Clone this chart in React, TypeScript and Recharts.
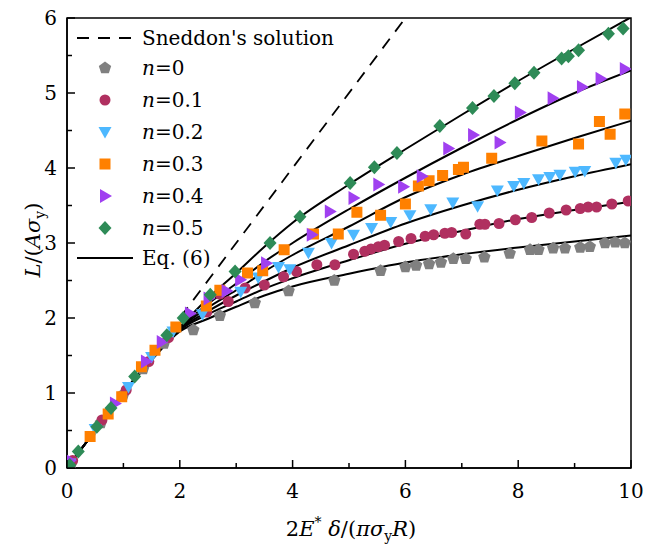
import React from "react";
import {
  ComposedChart,
  Line,
  Scatter,
  XAxis,
  YAxis,
  ReferenceArea,
  Legend,
} from "recharts";

// curve abscissae for Eq. (6)
const curveX = [0, 0.5, 1, 1.5, 2, 2.5, 3, 3.5, 4, 5, 6, 7, 8, 9, 10];
const eqN0 = [0, 0.5, 1.0, 1.44, 1.82, 1.99, 2.15, 2.3, 2.42, 2.59, 2.74, 2.85, 2.94, 3.02, 3.1];
const eqN01 = [0, 0.5, 1.0, 1.45, 1.84, 2.05, 2.22, 2.39, 2.53, 2.77, 2.99, 3.16, 3.32, 3.44, 3.55];
const eqN02 = [0, 0.5, 1.0, 1.45, 1.85, 2.09, 2.3, 2.49, 2.67, 2.97, 3.26, 3.5, 3.71, 3.89, 4.05];
const eqN03 = [0, 0.5, 1.0, 1.45, 1.86, 2.14, 2.37, 2.62, 2.84, 3.22, 3.61, 3.91, 4.16, 4.4, 4.63];
const eqN04 = [0, 0.5, 1.0, 1.45, 1.87, 2.19, 2.46, 2.75, 3.0, 3.45, 3.87, 4.27, 4.65, 5.0, 5.3];
const eqN05 = [0, 0.5, 1.0, 1.45, 1.88, 2.26, 2.6, 2.95, 3.27, 3.78, 4.25, 4.71, 5.16, 5.59, 6.01];

const sneddonX = [0, 6];
const sneddonY = [0, 6];

// FE points, [x, y]
const ptsN0 = [
  [0.08, 0.07], [0.6, 0.6], [1.0, 0.98], [1.35, 1.32], [1.72, 1.66],
  [2.24, 1.84], [2.71, 2.03], [3.33, 2.2], [3.93, 2.36], [4.74, 2.5],
  [5.56, 2.63], [6.0, 2.68], [6.19, 2.7], [6.42, 2.72], [6.63, 2.74],
  [6.85, 2.79], [7.07, 2.79], [7.4, 2.81], [7.85, 2.86], [8.21, 2.91],
  [8.36, 2.91], [8.62, 2.93], [8.83, 2.93], [9.1, 2.94], [9.27, 2.95],
  [9.54, 3.0], [9.72, 3.01], [9.89, 3.0],
];
const ptsN01 = [
  [0.1, 0.1], [0.62, 0.64], [1.05, 1.04], [1.45, 1.42], [1.8, 1.74],
  [2.48, 2.08], [2.71, 2.32], [2.86, 2.22], [3.16, 2.4], [3.5, 2.44],
  [3.84, 2.55], [4.07, 2.62], [4.43, 2.71], [4.75, 2.71], [5.08, 2.85],
  [5.28, 2.89], [5.39, 2.92], [5.52, 2.95], [5.63, 2.97], [5.88, 3.02],
  [6.1, 3.06], [6.35, 3.09], [6.5, 3.11], [6.7, 3.13], [6.82, 3.14],
  [7.07, 3.12], [7.32, 3.25], [7.41, 3.25], [7.66, 3.26], [7.95, 3.31],
  [8.24, 3.34], [8.55, 3.4], [8.85, 3.44], [9.1, 3.46], [9.24, 3.48],
  [9.39, 3.48], [9.66, 3.52], [9.95, 3.56],
];
const ptsN02 = [
  [0.05, 0.06], [0.5, 0.52], [1.09, 1.08], [1.5, 1.48], [1.88, 1.82],
  [2.4, 2.05], [3.08, 2.35], [3.39, 2.54], [3.75, 2.68], [3.95, 2.65],
  [4.28, 2.87], [4.69, 3.0], [5.08, 3.11], [5.4, 3.2], [5.74, 3.28],
  [6.08, 3.37], [6.45, 3.45], [6.84, 3.54], [7.28, 3.49], [7.63, 3.7],
  [7.92, 3.76], [8.1, 3.8], [8.36, 3.85], [8.56, 3.88], [8.74, 3.91],
  [9.01, 3.95], [9.18, 3.96], [9.73, 4.07], [9.91, 4.11],
];
const ptsN03 = [
  [0.41, 0.42], [0.73, 0.72], [0.97, 0.95], [1.32, 1.35], [1.56, 1.57],
  [1.93, 1.88], [2.47, 2.16], [2.71, 2.37], [3.2, 2.6], [3.47, 2.63],
  [3.85, 2.91], [4.37, 3.12], [4.81, 3.12], [5.14, 3.41], [5.56, 3.37],
  [6.0, 3.52], [6.23, 3.76], [6.42, 3.83], [6.66, 3.9], [6.94, 3.98],
  [7.03, 4.01], [7.53, 4.13], [8.42, 4.36], [9.07, 4.32], [9.44, 4.62],
  [9.63, 4.45], [9.89, 4.72],
];
const ptsN04 = [
  [0.05, 0.1], [0.85, 0.86], [1.4, 1.42], [1.68, 1.68], [2.18, 2.06],
  [2.51, 2.26], [2.83, 2.36], [3.07, 2.51], [3.53, 2.73], [4.34, 3.11],
  [4.66, 3.42], [5.08, 3.6], [5.52, 3.78], [5.96, 3.75], [6.29, 3.89],
  [6.76, 4.26], [7.2, 4.44], [7.67, 4.34], [8.03, 4.74], [8.61, 4.93],
  [9.13, 5.08], [9.46, 5.19], [9.89, 5.32],
];
const ptsN05 = [
  [0.05, 0.04], [0.2, 0.22], [0.53, 0.55], [0.78, 0.8], [1.2, 1.22],
  [1.77, 1.77], [2.06, 2.0], [2.54, 2.31], [2.98, 2.62], [3.6, 3.0],
  [4.13, 3.35], [5.02, 3.8], [5.45, 4.01], [5.85, 4.2], [6.61, 4.56],
  [7.19, 4.8], [7.57, 4.96], [7.94, 5.13], [8.28, 5.27], [8.77, 5.46],
  [8.89, 5.49], [9.07, 5.57], [9.6, 5.79], [9.86, 5.86],
];

const xTicks = [0, 1, 2, 3, 4, 5, 6, 7, 8, 9, 10];
const yTicks = [0, 0.5, 1, 1.5, 2, 2.5, 3, 3.5, 4, 4.5, 5, 5.5, 6];

// Liberation Serif falls back to a sans face here, DejaVu Serif is the serif that renders
const FONT = '"DejaVu Serif", serif';
const TXT = { fontFamily: FONT };
const C = {
  n0: "#808080",
  n01: "#b03060",
  n02: "#4db8ff",
  n03: "#ff8000",
  n04: "#a040f0",
  n05: "#2e8b57",
};

const toCurve = (ys: number[]) => curveX.map((x, i) => ({ x, y: ys[i] }));
const toPts = (arr: number[][]) => arr.map(([x, y]) => ({ x, y }));
const sneddon = sneddonX.map((x, i) => ({ x, y: sneddonY[i] }));

type Kind = "pent" | "circ" | "down" | "sq" | "right" | "diam";

function marker(kind: Kind, cx: number, cy: number, fill: string) {
  switch (kind) {
    case "pent": {
      const pts = [0, 1, 2, 3, 4]
        .map((i) => {
          const a = ((-90 + 72 * i) * Math.PI) / 180;
          return `${cx + 6.5 * Math.cos(a)},${cy + 6.5 * Math.sin(a)}`;
        })
        .join(" ");
      return <polygon points={pts} fill={fill} />;
    }
    case "circ":
      return <circle cx={cx} cy={cy} r={5.5} fill={fill} />;
    case "down":
      return (
        <polygon
          points={`${cx - 6.5},${cy - 5} ${cx + 6.5},${cy - 5} ${cx},${cy + 6.5}`}
          fill={fill}
        />
      );
    case "sq":
      return <rect x={cx - 5.5} y={cy - 5.5} width={11} height={11} fill={fill} />;
    case "right":
      return (
        <polygon
          points={`${cx - 5},${cy - 7} ${cx - 5},${cy + 7} ${cx + 7},${cy}`}
          fill={fill}
        />
      );
    default:
      return (
        <polygon
          points={`${cx},${cy - 7} ${cx + 6.5},${cy} ${cx},${cy + 7} ${cx - 6.5},${cy}`}
          fill={fill}
        />
      );
  }
}

const shapeOf = (kind: Kind, fill: string) => (p: any) => marker(kind, p.cx, p.cy, fill);

const XTick = (props: any) => {
  const { x, y, payload } = props;
  const major = payload.value % 2 === 0;
  return (
    <g>
      <line x1={x} y1={y} x2={x} y2={y - (major ? 8 : 5)} stroke="#000" strokeWidth={1.5} />
      {major && (
        <text x={x} y={y + 30} textAnchor="middle" style={TXT} fontSize={20} fill="#000">
          {payload.value}
        </text>
      )}
    </g>
  );
};

const YTick = (props: any) => {
  const { x, y, payload } = props;
  const major = Number.isInteger(payload.value);
  return (
    <g>
      <line x1={x} y1={y} x2={x + (major ? 8 : 5)} y2={y} stroke="#000" strokeWidth={1.5} />
      {major && (
        <text x={x - 10} y={y + 7} textAnchor="end" style={TXT} fontSize={20} fill="#000">
          {payload.value}
        </text>
      )}
    </g>
  );
};

const XLabel = () => (
  <text x={351} y={536} textAnchor="middle" style={TXT} fontSize={21} fill="#000">
    2<tspan fontStyle="italic">E</tspan>
    <tspan fontSize={14} dy={-9}>*</tspan>
    <tspan dy={9} fontStyle="italic"> δ</tspan>/(
    <tspan fontStyle="italic">πσ</tspan>
    <tspan fontSize={14} dy={5}>y</tspan>
    <tspan dy={-5} fontStyle="italic">R</tspan>)
  </text>
);

const YLabel = () => (
  <text
    transform="translate(40,240) rotate(-90)"
    textAnchor="middle"
    style={TXT}
    fontSize={21}
    fill="#000"
  >
    <tspan fontStyle="italic">L</tspan>/(
    <tspan fontStyle="italic">Aσ</tspan>
    <tspan fontSize={14} dy={5}>y</tspan>
    <tspan dy={-5}>)</tspan>
  </text>
);

const legendItems: { label: string; kind: Kind; color: string }[] = [
  { label: "0", kind: "pent", color: C.n0 },
  { label: "0.1", kind: "circ", color: C.n01 },
  { label: "0.2", kind: "down", color: C.n02 },
  { label: "0.3", kind: "sq", color: C.n03 },
  { label: "0.4", kind: "right", color: C.n04 },
  { label: "0.5", kind: "diam", color: C.n05 },
];

const LegendBox = () => (
  <svg width={290} height={250} style={{ display: "block" }}>
    <line x1={5} y1={18} x2={61} y2={18} stroke="#000" strokeWidth={1.8} strokeDasharray="12 9" />
    <text x={70} y={25} style={TXT} fontSize={20} fill="#000">
      Sneddon's solution
    </text>
    {legendItems.map((it, i) => {
      const cy = 48 + i * 32;
      return (
        <g key={it.label}>
          {marker(it.kind, 33, cy, it.color)}
          <text x={70} y={cy + 7} style={TXT} fontSize={20} fill="#000">
            <tspan fontStyle="italic">n</tspan>={it.label}
          </text>
        </g>
      );
    })}
    <line x1={5} y1={238} x2={61} y2={238} stroke="#000" strokeWidth={2} />
    <text x={70} y={245} style={TXT} fontSize={20} fill="#000">
      Eq. (6)
    </text>
  </svg>
);

export default function App() {
  return (
    <div style={{ position: "absolute", left: 0, top: 0, width: 646, height: 556, background: "#fff" }}>
      <ComposedChart width={646} height={556} margin={{ top: 18, right: 15, left: 0, bottom: 0 }}>
        <XAxis
          type="number"
          dataKey="x"
          domain={[0, 10]}
          ticks={xTicks}
          interval={0}
          tickSize={0}
          tickMargin={0}
          tickLine={false}
          tick={<XTick />}
          height={88}
          axisLine={{ stroke: "#000", strokeWidth: 1.5 }}
          allowDataOverflow
          label={<XLabel />}
        />
        <YAxis
          type="number"
          dataKey="y"
          domain={[0, 6]}
          ticks={yTicks}
          interval={0}
          tickSize={0}
          tickMargin={0}
          tickLine={false}
          tick={<YTick />}
          width={67}
          axisLine={{ stroke: "#000", strokeWidth: 1.5 }}
          allowDataOverflow
          label={<YLabel />}
        />
        <ReferenceArea x1={0} x2={10} y1={0} y2={6} fill="none" stroke="#000" strokeWidth={1.5} ifOverflow="visible" />
        <Legend
          layout="vertical"
          align="center"
          verticalAlign="middle"
          content={<LegendBox />}
          wrapperStyle={{ left: 72, top: 20, width: 290, height: 250 }}
        />
        <Line data={sneddon} dataKey="y" type="linear" stroke="#000" strokeWidth={1.8} strokeDasharray="12 9" dot={false} isAnimationActive={false} />
        <Line data={toCurve(eqN0)} dataKey="y" type="monotone" stroke="#000" strokeWidth={2} dot={false} isAnimationActive={false} />
        <Line data={toCurve(eqN01)} dataKey="y" type="monotone" stroke="#000" strokeWidth={2} dot={false} isAnimationActive={false} />
        <Line data={toCurve(eqN02)} dataKey="y" type="monotone" stroke="#000" strokeWidth={2} dot={false} isAnimationActive={false} />
        <Line data={toCurve(eqN03)} dataKey="y" type="monotone" stroke="#000" strokeWidth={2} dot={false} isAnimationActive={false} />
        <Line data={toCurve(eqN04)} dataKey="y" type="monotone" stroke="#000" strokeWidth={2} dot={false} isAnimationActive={false} />
        <Line data={toCurve(eqN05)} dataKey="y" type="monotone" stroke="#000" strokeWidth={2} dot={false} isAnimationActive={false} />
        <Scatter data={toPts(ptsN0)} shape={shapeOf("pent", C.n0)} isAnimationActive={false} />
        <Scatter data={toPts(ptsN01)} shape={shapeOf("circ", C.n01)} isAnimationActive={false} />
        <Scatter data={toPts(ptsN02)} shape={shapeOf("down", C.n02)} isAnimationActive={false} />
        <Scatter data={toPts(ptsN03)} shape={shapeOf("sq", C.n03)} isAnimationActive={false} />
        <Scatter data={toPts(ptsN04)} shape={shapeOf("right", C.n04)} isAnimationActive={false} />
        <Scatter data={toPts(ptsN05)} shape={shapeOf("diam", C.n05)} isAnimationActive={false} />
      </ComposedChart>
    </div>
  );
}
